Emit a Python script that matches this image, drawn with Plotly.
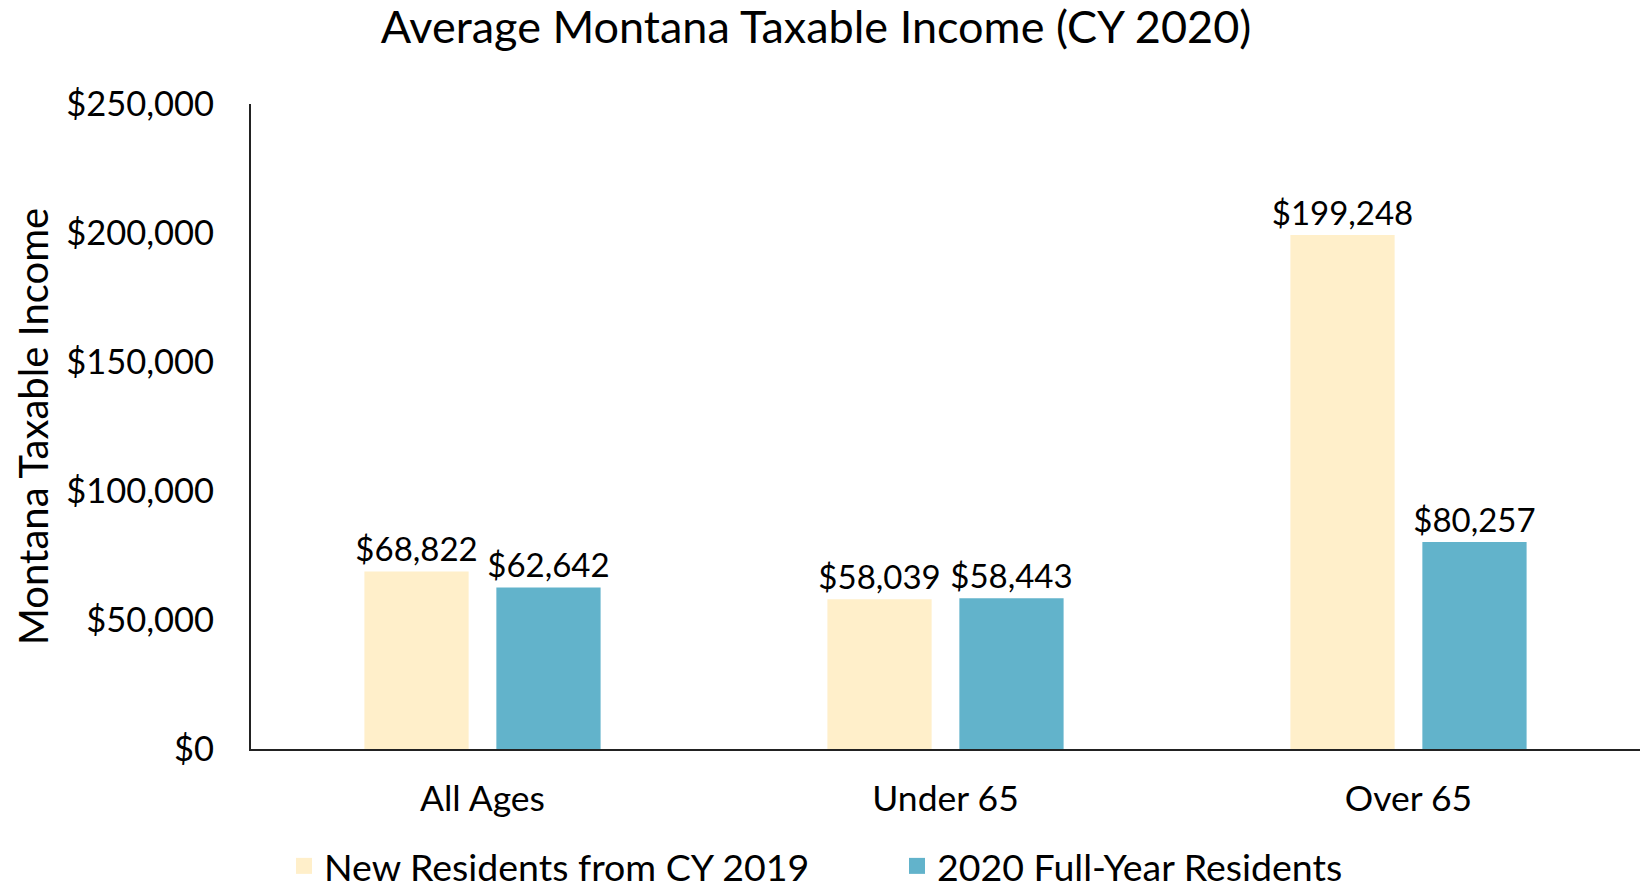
import plotly.graph_objects as go

categories = ["All Ages", "Under 65", "Over 65"]
new_residents = [68822, 58039, 199248]
full_year = [62642, 58443, 80257]
series_names = ["New Residents from CY 2019", "2020 Full-Year Residents"]
series_colors = ["#FFEFCA", "#62B3CB"]
y_tickvals = [0, 50000, 100000, 150000, 200000, 250000]
y_ticktext = ["$0", "$50,000", "$100,000", "$150,000", "$200,000", "$250,000"]

FONT = "Lato"
fig = go.Figure()
for name, vals, color in zip(series_names, [new_residents, full_year], series_colors):
    fig.add_trace(go.Bar(
        x=categories, y=vals, name=name, legendgroup=name, showlegend=False,
        marker=dict(color=color, line=dict(width=0)),
        text=[f"${v:,.0f}" for v in vals],
        textposition="outside",
        constraintext="none",
        textfont=dict(family=FONT, size=33, color="#000"),
        cliponaxis=False,
    ))
# legend entries with larger square swatches
for name, color in zip(series_names, series_colors):
    fig.add_trace(go.Scatter(
        x=[None], y=[None], name=name, legendgroup=name, mode="markers",
        marker=dict(symbol="square", size=22, color=color, line=dict(width=0)),
        showlegend=True,
    ))

fig.update_layout(
    width=1652, height=892,
    paper_bgcolor="white", plot_bgcolor="white",
    barmode="group", bargap=0.43, bargroupgap=0.21,
    margin=dict(l=251, r=12, t=104, b=143, autoexpand=False),
    title=dict(text="Average Montana Taxable Income (CY 2020)",
               x=816 / 1652, xanchor="center", y=1 - 27 / 892, yanchor="middle",
               font=dict(family=FONT, size=45, color="#000")),
    font=dict(family=FONT, color="#000"),
    legend=dict(orientation="h", x=(897 - 251) / 1389, xanchor="center",
                y=-(866 - 749) / 645, yanchor="middle",
                font=dict(family=FONT, size=37.5, color="#000"),
                entrywidth=568, entrywidthmode="pixels"),
    showlegend=True,
)
fig.update_xaxes(
    showline=True, linecolor="#222", linewidth=2,
    showgrid=False, ticks="", tickfont=dict(family=FONT, size=35.5, color="#000"),
    ticklabelstandoff=17,
)
fig.update_yaxes(
    range=[0, 250000], tickvals=y_tickvals, ticktext=y_ticktext,
    showline=True, linecolor="#222", linewidth=2,
    showgrid=False, zeroline=False, ticks="",
    tickfont=dict(family=FONT, size=34.5, color="#000"),
    ticklabelstandoff=28,
    title=dict(text="Montana Taxable Income", standoff=5,
               font=dict(family=FONT, size=40, color="#000")),
)
fig.write_html("out.html", config={"displayModeBar": False},
               post_script="document.body.style.margin='0';")
